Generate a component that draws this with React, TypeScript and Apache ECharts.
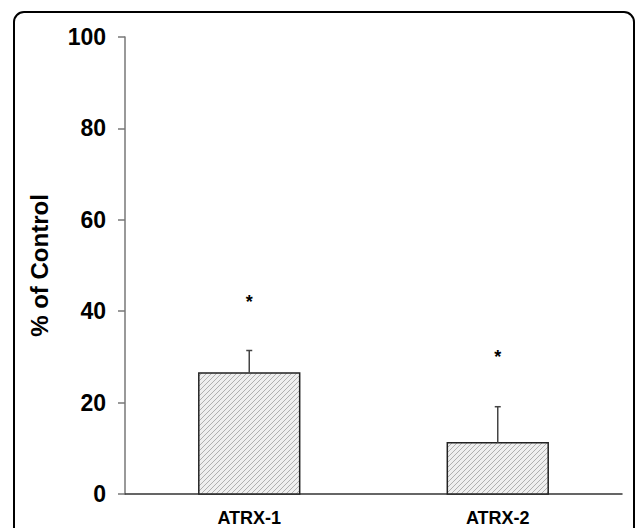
import React, { useEffect, useRef } from "react";
import * as echarts from "echarts";

const categories = ["ATRX-1", "ATRX-2"];
const meanValues = [26.5, 11.2];
const errorValues = [4.9, 7.9];
const starPositions = [42, 30];
const starLabels = ["*", "*"];

const FONT = "'Liberation Sans', Arial, Helvetica, sans-serif";

export default function App() {
  const ref = useRef<HTMLDivElement>(null);

  useEffect(() => {
    const chart = echarts.init(ref.current!, null, { renderer: "svg" });
    const barData = categories.map((_, i) => [i, meanValues[i]]);
    const errData = categories.map((_, i) => [
      i,
      meanValues[i],
      meanValues[i] + errorValues[i],
      starPositions[i],
    ]);

    chart.setOption({
      animation: false,
      graphic: [
        {
          type: "rect",
          shape: { x: 14, y: 12, width: 620, height: 560, r: 10 },
          style: { fill: "none", stroke: "#000", lineWidth: 2 },
          silent: true,
          z: 100,
        },
      ],
      grid: { left: 125, right: 14, top: 37, bottom: 34 },
      xAxis: {
        type: "category",
        data: categories,
        axisLine: { lineStyle: { color: "#333", width: 1.5 } },
        axisTick: { length: 7, lineStyle: { color: "#333", width: 1.5 } },
        axisLabel: {
          margin: 15,
          fontSize: 18,
          fontWeight: "bold",
          color: "#000",
          fontFamily: FONT,
        },
        splitLine: { show: false },
      },
      yAxis: {
        type: "value",
        min: 0,
        max: 100,
        interval: 20,
        name: "% of Control",
        nameLocation: "middle",
        nameRotate: 90,
        nameGap: 74,
        nameTextStyle: {
          fontSize: 24,
          fontWeight: "bold",
          color: "#000",
          fontFamily: FONT,
        },
        axisLine: { show: true, lineStyle: { color: "#777", width: 1.5 } },
        axisTick: { show: true, length: 7, lineStyle: { color: "#777", width: 1.5 } },
        axisLabel: {
          margin: 19,
          fontSize: 23,
          fontWeight: "bold",
          color: "#000",
          fontFamily: FONT,
        },
        splitLine: { show: false },
      },
      series: [
        {
          type: "custom",
          data: barData,
          encode: { x: 0, y: 1 },
          renderItem: (params: any, api: any) => {
            const idx = api.value(0);
            const v = api.value(1);
            const base = api.coord([idx, 0]);
            const top = api.coord([idx, v]);
            const w = api.size([1, 0])[0] * 0.406;
            const x0 = base[0] - w / 2;
            const x1 = base[0] + w / 2;
            const y0 = top[1];
            const y1 = base[1];
            const children: any[] = [
              {
                type: "rect",
                shape: { x: x0, y: y0, width: w, height: y1 - y0 },
                style: { fill: "#efefef", stroke: "none" },
              },
            ];
            const step = 5;
            const cStart = Math.ceil((x0 + y0) / step) * step;
            for (let c = cStart; c <= x1 + y1; c += step) {
              const xa = Math.max(x0, c - y1);
              const xb = Math.min(x1, c - y0);
              if (xb > xa) {
                children.push({
                  type: "line",
                  shape: { x1: xa, y1: c - xa, x2: xb, y2: c - xb },
                  style: { stroke: "#b0b0b0", lineWidth: 1 },
                });
              }
            }
            children.push({
              type: "rect",
              shape: { x: x0, y: y0, width: w, height: y1 - y0 },
              style: { fill: "none", stroke: "#222", lineWidth: 1.5 },
            });
            return { type: "group", children };
          },
          z: 2,
        },
        {
          type: "custom",
          data: errData,
          encode: { x: 0, y: [1, 2, 3] },
          renderItem: (params: any, api: any) => {
            const idx = api.value(0);
            const lo = api.coord([idx, api.value(1)]);
            const hi = api.coord([idx, api.value(2)]);
            const st = api.coord([idx, api.value(3)]);
            return {
              type: "group",
              children: [
                {
                  type: "line",
                  shape: { x1: lo[0], y1: lo[1], x2: hi[0], y2: hi[1] },
                  style: { stroke: "#444", lineWidth: 1.5 },
                },
                {
                  type: "line",
                  shape: { x1: hi[0] - 3, y1: hi[1], x2: hi[0] + 3, y2: hi[1] },
                  style: { stroke: "#444", lineWidth: 1.5 },
                },
                {
                  type: "text",
                  x: st[0],
                  y: st[1],
                  style: {
                    text: starLabels[params.dataIndex],
                    fontSize: 18,
                    fontWeight: "bold",
                    fontFamily: FONT,
                    fill: "#000",
                    align: "center",
                    verticalAlign: "middle",
                  },
                },
              ],
            };
          },
          z: 3,
        },
      ],
    });
    return () => chart.dispose();
  }, []);

  return (
    <div
      ref={ref}
      style={{ position: "fixed", left: 0, top: 0, width: 636, height: 528, background: "#fff" }}
    />
  );
}
